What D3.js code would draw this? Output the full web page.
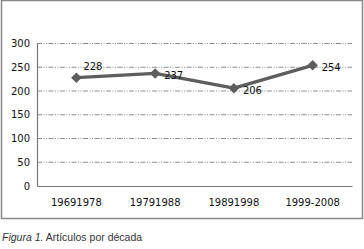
<!DOCTYPE html>
<html>
<head>
<meta charset="utf-8">
<script src="https://cdn.jsdelivr.net/npm/d3@7"></script>
<style>
body{margin:0;background:#fff;}
</style>
</head>
<body>
<div id="chart"></div>
<script>
var w = 364, h = 249;

// datos
var decadas = ["19691978", "19791988", "19891998", "1999-2008"];
var articulos = [228, 237, 206, 254];
var ticksY = [0, 50, 100, 150, 200, 250, 300];

var svg = d3.select("#chart").append("svg")
    .attr("width", w)
    .attr("height", h);

// marco
svg.append("rect")
    .attr("x", 1.5).attr("y", 0.5)
    .attr("width", 361).attr("height", 218)
    .attr("fill", "#fff")
    .attr("stroke", "#888")
    .attr("stroke-width", 1.5);

var x = d3.scaleBand().domain(decadas).range([37, 352]);
var y = d3.scaleLinear().domain([0, 300]).range([186, 43.5]);

// lineas de la grilla
svg.selectAll(".grid")
    .data(ticksY.filter(function(d){ return d > 0; }))
    .enter().append("line")
    .attr("x1", 37).attr("x2", 352)
    .attr("y1", function(d){ return y(d); })
    .attr("y2", function(d){ return y(d); })
    .attr("stroke", "#8c8c8c")
    .attr("stroke-width", 1)
    .attr("stroke-dasharray", "5,1.5,1,1.5,1,1.5");

// eje y
var ejeY = svg.append("g")
    .attr("transform", "translate(37,0)")
    .call(d3.axisLeft(y).tickValues(ticksY).tickSize(0).tickPadding(7));
ejeY.select(".domain").attr("stroke", "#777").attr("stroke-width", 1.2);
ejeY.selectAll("text")
    .attr("font-family", "DejaVu Sans, Verdana, sans-serif")
    .attr("font-size", 10)
    .attr("fill", "#111");

// eje x
var ejeX = svg.append("g")
    .attr("transform", "translate(0,186)")
    .call(d3.axisBottom(x).tickSize(0).tickPadding(13));
ejeX.select(".domain").attr("stroke", "#777").attr("stroke-width", 1.2);
ejeX.selectAll("text")
    .attr("font-family", "DejaVu Sans, Verdana, sans-serif")
    .attr("font-size", 10)
    .attr("fill", "#111");

var cx = function(d, i){ return x(decadas[i]) + x.bandwidth() / 2; };

// linea
var linea = d3.line()
    .x(function(d, i){ return cx(d, i); })
    .y(function(d){ return y(d); });

svg.append("path")
    .datum(articulos)
    .attr("d", linea)
    .attr("fill", "none")
    .attr("stroke", "#5e5e5e")
    .attr("stroke-width", 3.2)
    .attr("stroke-linejoin", "round");

// rombos
svg.selectAll(".punto")
    .data(articulos)
    .enter().append("path")
    .attr("d", d3.symbol().type(d3.symbolDiamond2).size(70))
    .attr("transform", function(d, i){ return "translate(" + cx(d, i) + "," + y(d) + ")"; })
    .attr("fill", "#5e5e5e");

// etiquetas
svg.selectAll(".etq")
    .data(articulos)
    .enter().append("text")
    .attr("x", function(d, i){ return cx(d, i) + (i == 0 ? 7 : 9); })
    .attr("y", function(d, i){ return y(d) + (i == 0 ? -8 : 6); })
    .attr("font-family", "DejaVu Sans, Verdana, sans-serif")
    .attr("font-size", 10)
    .attr("fill", "#111")
    .text(function(d){ return d; });

// pie de figura
var pie = svg.append("text")
    .attr("x", 2).attr("y", 241)
    .attr("font-family", "Liberation Sans Narrow, Arial Narrow, sans-serif")
    .attr("font-size", 10.5)
    .attr("fill", "#333");
pie.append("tspan").attr("font-style", "italic").text("Figura 1.");
pie.append("tspan").text(" Artículos por década");
</script>
</body>
</html>
